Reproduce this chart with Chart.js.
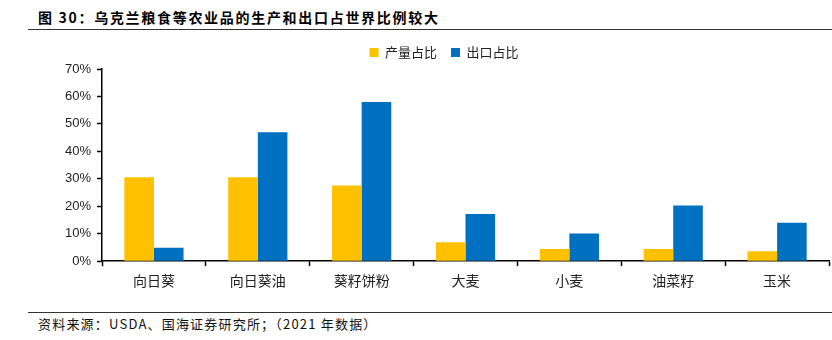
<!DOCTYPE html>
<html>
<head>
<meta charset="utf-8">
<script src="https://cdn.jsdelivr.net/npm/chart.js@4"></script>
<style>
  html, body { margin: 0; padding: 0; background: #fff; }
  #wrap { position: relative; width: 832px; height: 340px; overflow: hidden; }
  #title { position: absolute; left: 38px; top: 7px; font: bold 14px "Noto Sans CJK SC", sans-serif; color: #000; white-space: nowrap; line-height: 20px; letter-spacing: 1.7px; }
  #tline { position: absolute; left: 28px; right: 0; top: 29px; height: 0; border-top: 1.5px solid #333; }
  #fline { position: absolute; left: 28px; right: 0; top: 312px; height: 0; border-top: 1.5px solid #333; }
  #foot { position: absolute; left: 38px; top: 315px; font: 13px "Noto Sans CJK SC", sans-serif; color: #111; white-space: nowrap; line-height: 18px; letter-spacing: 1.2px; }
  #cv { position: absolute; left: 0; top: 30px; }
</style>
</head>
<body>
<div id="wrap">
  <div id="title">图 30：乌克兰粮食等农业品的生产和出口占世界比例较大</div>
  <div id="tline"></div>
  <canvas id="cv" width="832" height="265"></canvas>
  <div id="fline"></div>
  <div id="foot">资料来源：USDA、国海证券研究所；（2021 年数据）</div>
</div>
<script>
const categories = ["向日葵", "向日葵油", "葵籽饼粉", "大麦", "小麦", "油菜籽", "玉米"];
const productionShare = [30.6, 30.6, 27.6, 6.9, 4.4, 4.4, 3.6];
const exportShare = [4.9, 47.0, 58.0, 17.2, 10.1, 20.3, 14.0];
const seriesNames = ["产量占比", "出口占比"];
const yTicks = [0, 10, 20, 30, 40, 50, 60, 70];

new Chart(document.getElementById('cv'), {
  type: 'bar',
  data: {
    labels: categories,
    datasets: [
      { label: seriesNames[0], data: productionShare, backgroundColor: '#FFC000', borderWidth: 0 },
      { label: seriesNames[1], data: exportShare, backgroundColor: '#0070C0', borderWidth: 0 }
    ]
  },
  options: {
    responsive: false,
    animation: false,
    layout: { padding: { left: 59, right: 3, top: 2, bottom: 0 } },
    datasets: { bar: { categoryPercentage: 0.57, barPercentage: 1.0 } },
    plugins: {
      legend: {
        position: 'top',
        align: 'center',
        labels: {
          boxWidth: 9, boxHeight: 9, padding: 14,
          color: '#222',
          font: { family: '"Noto Sans CJK SC", sans-serif', size: 13 }
        }
      },
      tooltip: { enabled: false }
    },
    scales: {
      x: {
        offset: true,
        grid: { offset: true, drawOnChartArea: false, drawTicks: true, tickLength: 5, color: '#000', tickWidth: 1.5 },
        border: { display: true, color: '#000', width: 1.5 },
        ticks: { color: '#222', padding: 6, font: { family: '"Noto Sans CJK SC", sans-serif', size: 14 } }
      },
      y: {
        min: 0, max: 70,
        afterBuildTicks: (s) => { s.ticks = yTicks.map(v => ({ value: v })); },
        grid: { drawOnChartArea: false, drawTicks: true, tickLength: 5, color: '#000', tickWidth: 1.5 },
        border: { display: true, color: '#000', width: 1.5 },
        ticks: { color: '#222', padding: 6, font: { family: '"Liberation Sans", Arial, sans-serif', size: 13 }, callback: (v) => v + '%' }
      }
    }
  }
});
</script>
</body>
</html>
